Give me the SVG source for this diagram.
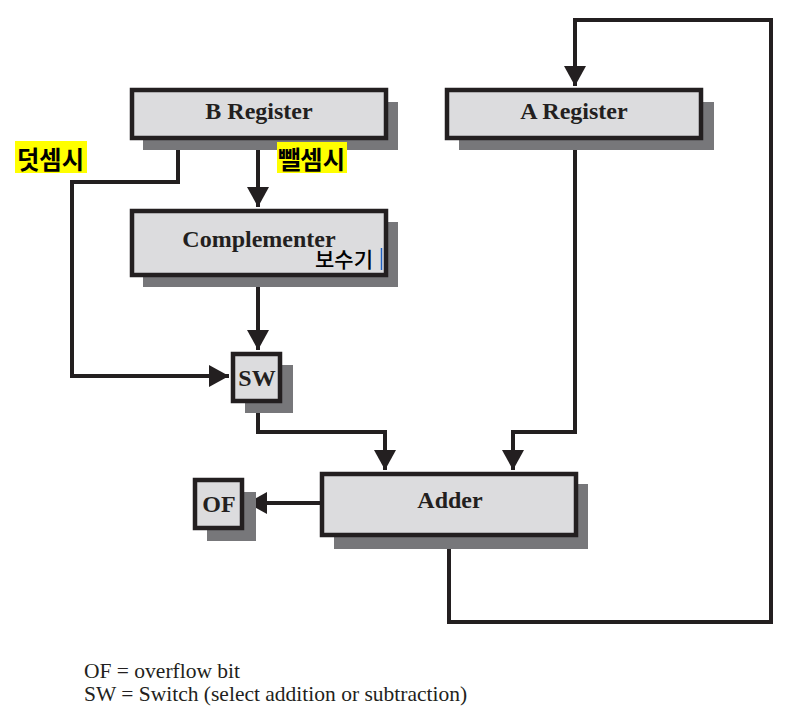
<svg xmlns="http://www.w3.org/2000/svg" width="799" height="712" viewBox="0 0 799 712">
<defs>
<style>
.box{fill:#dcdcde;stroke:#231f20;stroke-width:4.5}
.sh{fill:#77777a}
.lbl{font-family:"Liberation Serif",serif;font-weight:bold;font-size:24px;fill:#231f20;text-anchor:middle}
.ln{fill:none;stroke:#231f20;stroke-width:4}
.ko{font-family:"Noto Sans CJK KR",sans-serif;font-weight:bold;font-size:25px;fill:#000}
.leg{font-family:"Liberation Serif",serif;font-size:21.5px;fill:#231f20}
</style>
<marker id="ah" markerWidth="22" markerHeight="22" viewBox="0 0 22 22" refX="20" refY="11" orient="auto" markerUnits="userSpaceOnUse">
<path d="M0,0 L20,11 L0,22 Z" fill="#231f20"/>
</marker>
</defs>
<rect width="799" height="712" fill="#fff"/>
<g id="connectors">
<polyline class="ln" points="178,140 178,182 72,182 72,376 229,376" marker-end="url(#ah)"/>
<polyline class="ln" points="258,140 258,207" marker-end="url(#ah)"/>
<polyline class="ln" points="258,276 258,350" marker-end="url(#ah)"/>
<polyline class="ln" points="258,403 258,432 385,432 385,470" marker-end="url(#ah)"/>
<polyline class="ln" points="575,139 575,432 513,432 513,470" marker-end="url(#ah)"/>
<polyline class="ln" points="320,503 247,503" marker-end="url(#ah)"/>
<polyline class="ln" points="449,537 449,622 771,622 771,20 575,20 575,86" marker-end="url(#ah)"/>
</g>
<g id="b-register">
<rect class="sh" x="143" y="102" width="255" height="48"/>
<rect class="box" x="132" y="90" width="254" height="48"/>
<text class="lbl" x="259" y="119">B Register</text>
</g>
<g id="a-register">
<rect class="sh" x="459" y="102" width="255" height="48"/>
<rect class="box" x="447" y="90" width="254" height="48"/>
<text class="lbl" x="574" y="119">A Register</text>
</g>
<g id="complementer">
<rect class="sh" x="143" y="222" width="255" height="65"/>
<rect class="box" x="132" y="211" width="254" height="64"/>
<text class="lbl" x="259" y="247">Complementer</text>
<text x="315" y="267" style="font-family:'Noto Sans CJK KR',sans-serif;font-weight:500;font-size:21px;fill:#000">보수기</text>
<line x1="381.5" y1="248" x2="381.5" y2="270" stroke="#2060c0" stroke-width="1.5"/>
</g>
<g id="sw">
<rect class="sh" x="245" y="365" width="48" height="48"/>
<rect class="box" x="233" y="354" width="47" height="47"/>
<text class="lbl" x="257" y="386">SW</text>
</g>
<g id="adder">
<rect class="sh" x="334" y="484" width="254" height="65"/>
<rect class="box" x="322" y="474" width="254" height="61"/>
<text class="lbl" x="450" y="508">Adder</text>
</g>
<g id="of">
<rect class="sh" x="207" y="492" width="49" height="49"/>
<rect class="box" x="195" y="480" width="47" height="48"/>
<text class="lbl" x="219" y="512">OF</text>
</g>
<g id="labels">
<rect x="15" y="141" width="72" height="32" fill="#ffff00"/>
<text class="ko" x="17" y="169" textLength="67" lengthAdjust="spacingAndGlyphs">덧셈시</text>
<rect x="277" y="142" width="70" height="31" fill="#ffff00"/>
<text class="ko" x="278" y="169" textLength="67" lengthAdjust="spacingAndGlyphs">뺄셈시</text>
</g>
<g id="legend">
<text class="leg" x="84" y="678">OF = overflow bit</text>
<text class="leg" x="84" y="701">SW = Switch (select addition or subtraction)</text>
</g>
</svg>
